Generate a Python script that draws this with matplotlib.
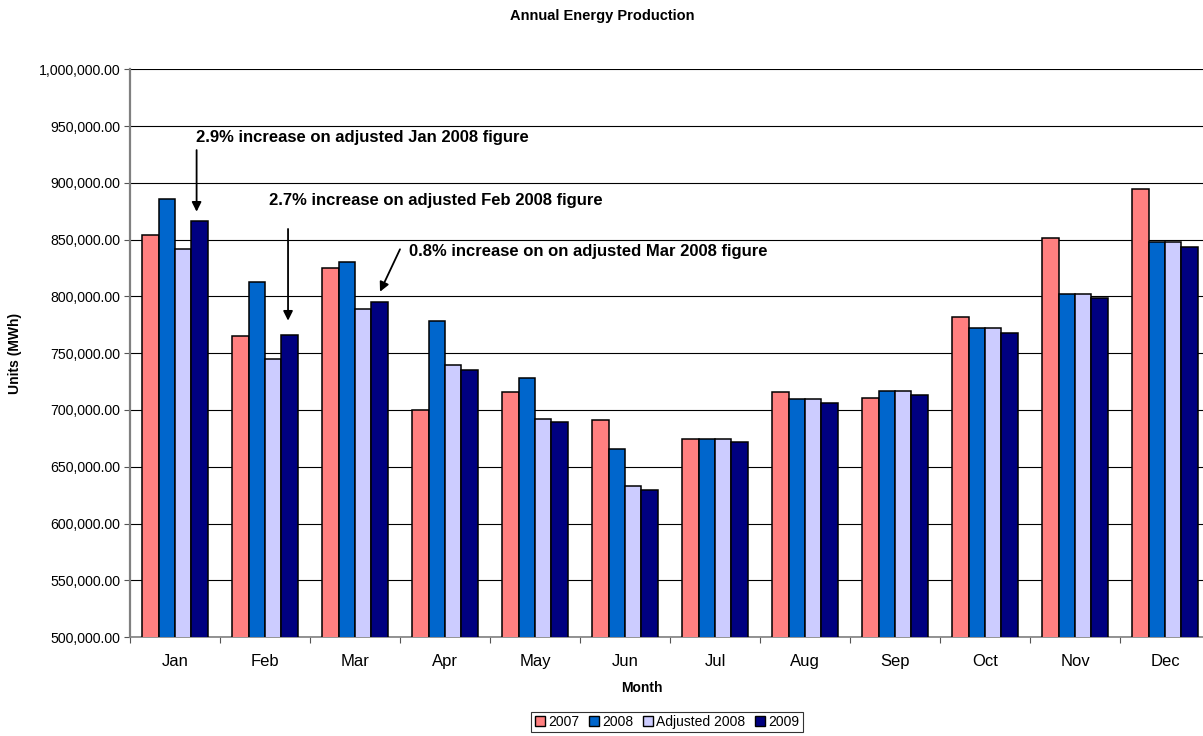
import matplotlib
matplotlib.use("Agg")
import matplotlib.pyplot as plt
from matplotlib.patches import Patch
from matplotlib.ticker import FuncFormatter, FixedLocator
import numpy as np

plt.rcParams['font.family'] = ['Liberation Sans', 'DejaVu Sans']

months = ["Jan", "Feb", "Mar", "Apr", "May", "Jun",
          "Jul", "Aug", "Sep", "Oct", "Nov", "Dec"]
series_names = ["2007", "2008", "Adjusted 2008", "2009"]
prod_2007 = [854400, 765500, 825300, 699700, 715800, 690800,
             674400, 715600, 710900, 781700, 851400, 894400]
prod_2008 = [885900, 813000, 830300, 778500, 728200, 665600,
             674400, 709700, 717100, 771800, 802000, 848000]
prod_adj_2008 = [841400, 745300, 788900, 739700, 692300, 632600,
                 674400, 709700, 717000, 771800, 802000, 848000]
prod_2009 = [866200, 766100, 795300, 735600, 689300, 629100,
             671800, 706200, 713600, 768200, 798500, 843900]
colors = ["#FF8080", "#0066CC", "#CCCCFF", "#000080"]

notes = ["2.9% increase on adjusted Jan 2008 figure",
         "2.7% increase on adjusted Feb 2008 figure",
         "0.8% increase on on adjusted Mar 2008 figure"]

W, H = 1203, 736
fig = plt.figure(figsize=(W / 100, H / 100), dpi=100)
# plot area runs slightly past the right edge of the canvas
ax = fig.add_axes([130 / W, 0.1345, 1080 / W, 0.7711])

x = np.arange(len(months))
bw = 0.1833
all_series = [prod_2007, prod_2008, prod_adj_2008, prod_2009]
for i, (vals, c) in enumerate(zip(all_series, colors)):
    ax.bar(x + (i - 1.5) * bw, vals, width=bw, color=c,
           edgecolor="black", linewidth=1.1, zorder=3)

ax.set_xlim(-0.5, 11.5)
ax.set_ylim(500000, 1000000)
ax.set_yticks(np.arange(500000, 1000001, 50000))
ax.yaxis.set_major_formatter(FuncFormatter(lambda v, p: f"{v:,.2f}"))
ax.grid(axis="y", color="black", linewidth=0.8, zorder=1)
ax.tick_params(axis="y", direction="out", length=4, width=0.8,
               labelsize=10.2, color="#555555", pad=3)

ax.set_xticks(x)
ax.set_xticklabels(months, fontsize=12)
ax.tick_params(axis="x", which="major", length=0, pad=12)
ax.xaxis.set_minor_locator(FixedLocator(np.arange(-0.5, 12, 1)))
ax.tick_params(axis="x", which="minor", direction="out", length=4,
               width=0.8, color="#555555")

for side in ("top", "right"):
    ax.spines[side].set_visible(False)
ax.spines["left"].set_color("#808080")
ax.spines["left"].set_linewidth(1.6)
ax.spines["bottom"].set_color("#808080")
ax.spines["bottom"].set_linewidth(1.2)

# annotation arrows and labels
arrow_kw = dict(arrowstyle="-|>", color="black", lw=1.3, mutation_scale=14,
                shrinkA=0, shrinkB=0)
ax.annotate("", xy=(0.24, 874700), xytext=(0.24, 929000), arrowprops=arrow_kw)
ax.text(0.233, 940500, notes[0], fontsize=12, fontweight="bold",
        ha="left", va="center")
ax.annotate("", xy=(1.256, 778700), xytext=(1.256, 859500), arrowprops=arrow_kw)
ax.text(1.044, 884600, notes[1], fontsize=12, fontweight="bold",
        ha="left", va="center")
ax.annotate("", xy=(2.278, 804200), xytext=(2.5, 841600), arrowprops=arrow_kw)
ax.text(2.6, 840000, notes[2], fontsize=12, fontweight="bold",
        ha="left", va="center")

fig.text(602 / W, 1 - 16 / H, "Annual Energy Production", fontsize=10.5,
         fontweight="bold", ha="center", va="center")
fig.text(15 / W, 1 - 353 / H, "Units (MWh)", fontsize=10, fontweight="bold",
         rotation=90, ha="center", va="center")
fig.text(642 / W, 1 - 688 / H, "Month", fontsize=10, fontweight="bold",
         ha="center", va="center")

handles = [Patch(facecolor=c, edgecolor="black", linewidth=1.0) for c in colors]
leg = fig.legend(handles, series_names, loc="center",
                 bbox_to_anchor=(667 / W, 1 - 722 / H), ncol=4, fontsize=10,
                 frameon=True, fancybox=False, handlelength=0.7,
                 handleheight=0.7, handletextpad=0.25, columnspacing=0.7,
                 borderpad=0.25, borderaxespad=0)
leg.get_frame().set_edgecolor("black")
leg.get_frame().set_linewidth(0.8)

fig.savefig("out.png", dpi=100)
